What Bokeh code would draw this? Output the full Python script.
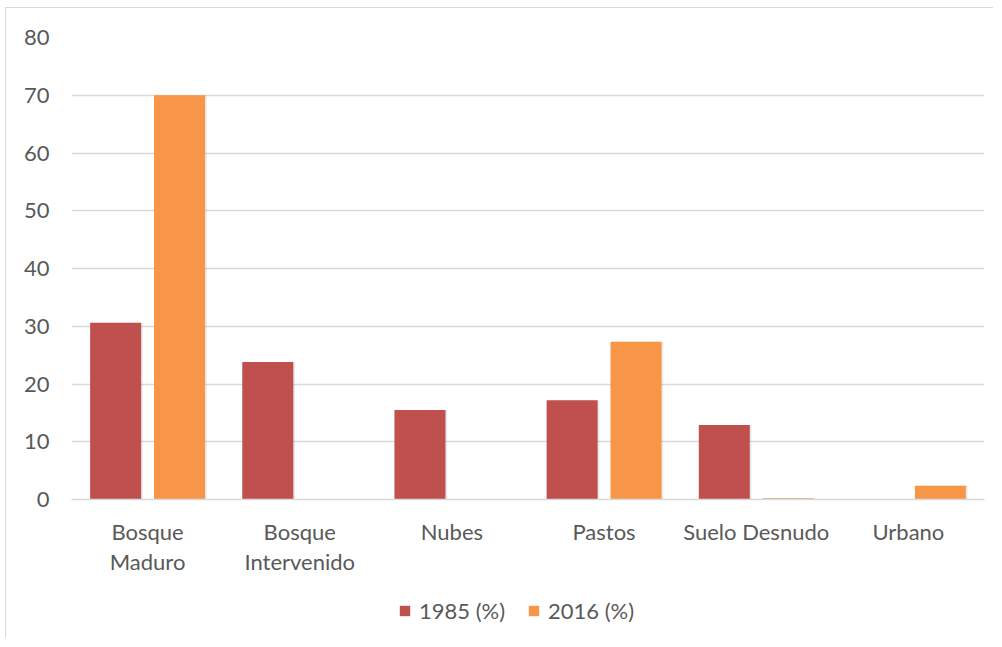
from bokeh.plotting import figure
from bokeh.models import (FactorRange, Legend, LegendItem, ColumnDataSource, SingleIntervalTicker,
                          CategoricalAxis, CustomJSTickFormatter)
from bokeh.layouts import column
from bokeh.transform import dodge
from bokeh.embed import file_html
from bokeh.resources import INLINE

categories = ["Bosque Maduro", "Bosque Intervenido", "Nubes", "Pastos", "Suelo Desnudo", "Urbano"]
label_line1 = ["Bosque", "Bosque", "Nubes", "Pastos", "Suelo Desnudo", "Urbano"]
label_line2 = ["Maduro", "Intervenido", "", "", "", ""]
v1985 = [30.6, 23.8, 15.5, 17.2, 12.9, 0.0]
v2016 = [70.0, 0.0, 0.0, 27.3, 0.2, 2.4]
series = ["1985 (%)", "2016 (%)"]
colors = ["#C0504D", "#F79646"]

src = ColumnDataSource(dict(cat=categories, a=v1985, b=v2016))

FONT = "Lato"
TXT = "#595959"
FS = "22px"
BORDER = "1px solid #D9D9D9"

p = figure(x_range=FactorRange(*categories), y_range=(0, 80),
           frame_width=912, frame_height=461, output_backend="svg", toolbar_location=None,
           min_border_left=65, min_border_right=10, min_border_top=29, min_border_bottom=80)
p.styles = {"border-top": BORDER, "border-left": BORDER, "margin-left": "5px", "margin-top": "7px"}
p.outline_line_color = None
p.background_fill_color = "white"
p.border_fill_color = "white"

# subtle shadows
for key, off in (("a", -0.21), ("b", 0.21)):
    p.vbar(x=dodge("cat", off + 0.006, range=p.x_range), top=key, bottom=-0.35, width=0.345,
           source=src, color="#7F7F7F", alpha=0.18, line_color=None)

p.vbar(x=dodge("cat", -0.21, range=p.x_range), top="a", width=0.335, source=src,
       color=colors[0], line_color=None)
p.vbar(x=dodge("cat", 0.21, range=p.x_range), top="b", width=0.335, source=src,
       color=colors[1], line_color=None)

p.xgrid.grid_line_color = None
p.ygrid.grid_line_color = "#D9D9D9"
p.ygrid.grid_line_width = 1.5
p.yaxis.ticker = SingleIntervalTicker(interval=10)
p.yaxis.axis_line_color = None
p.yaxis.major_tick_line_color = None
p.yaxis.minor_tick_line_color = None
p.yaxis.major_label_standoff = 16
p.yaxis.major_label_text_font = FONT
p.yaxis.major_label_text_font_size = FS
p.yaxis.major_label_text_color = TXT

ax1 = p.xaxis[0]
ax1.axis_line_color = "#D9D9D9"
ax1.axis_line_width = 1.5
ax1.major_tick_line_color = None
ax1.minor_tick_line_color = None
ax1.major_label_standoff = 12
ax1.formatter = CustomJSTickFormatter(args=dict(c=categories, l=label_line1),
                                      code="return l[c.indexOf(tick)];")
ax1.major_label_text_font = FONT
ax1.major_label_text_font_size = FS
ax1.major_label_text_color = TXT

ax2 = CategoricalAxis(axis_line_color=None, major_tick_line_color=None, minor_tick_line_color=None,
                      major_label_standoff=-6,
                      formatter=CustomJSTickFormatter(args=dict(c=categories, l=label_line2),
                                                      code="return l[c.indexOf(tick)];"),
                      major_label_text_font=FONT, major_label_text_font_size=FS,
                      major_label_text_color=TXT)
p.add_layout(ax2, "below")

# legend strip (series renderers kept far out of view; only their legend keys show)
lg = figure(x_range=FactorRange(*categories), y_range=(1000, 1001),
            width=980, height=60, output_backend="svg", toolbar_location=None,
            x_axis_location=None, y_axis_location=None,
            min_border_left=0, min_border_right=0, min_border_top=0, min_border_bottom=0)
lg.styles = {"border-left": BORDER, "margin-left": "5px"}
lg.outline_line_color = None
lg.grid.grid_line_color = None
lg.background_fill_color = "white"
lg.border_fill_color = "white"
k1 = lg.vbar(x="cat", top="a", bottom=0, width=0.01, source=src, fill_color=colors[0], line_color=None)
k2 = lg.vbar(x="cat", top="b", bottom=0, width=0.01, source=src, fill_color=colors[1], line_color=None)
legend = Legend(items=[LegendItem(label=series[0], renderers=[k1]),
                       LegendItem(label=series[1], renderers=[k2])],
                orientation="horizontal", location=(327, 14),
                label_text_font=FONT, label_text_font_size=FS, label_text_color=TXT,
                glyph_width=13, glyph_height=13, spacing=22, label_standoff=8,
                border_line_color=None, background_fill_alpha=0, margin=0, padding=0)
lg.add_layout(legend)

layout = column(p, lg, spacing=0)
open("out.html", "w").write(file_html(layout, INLINE))
